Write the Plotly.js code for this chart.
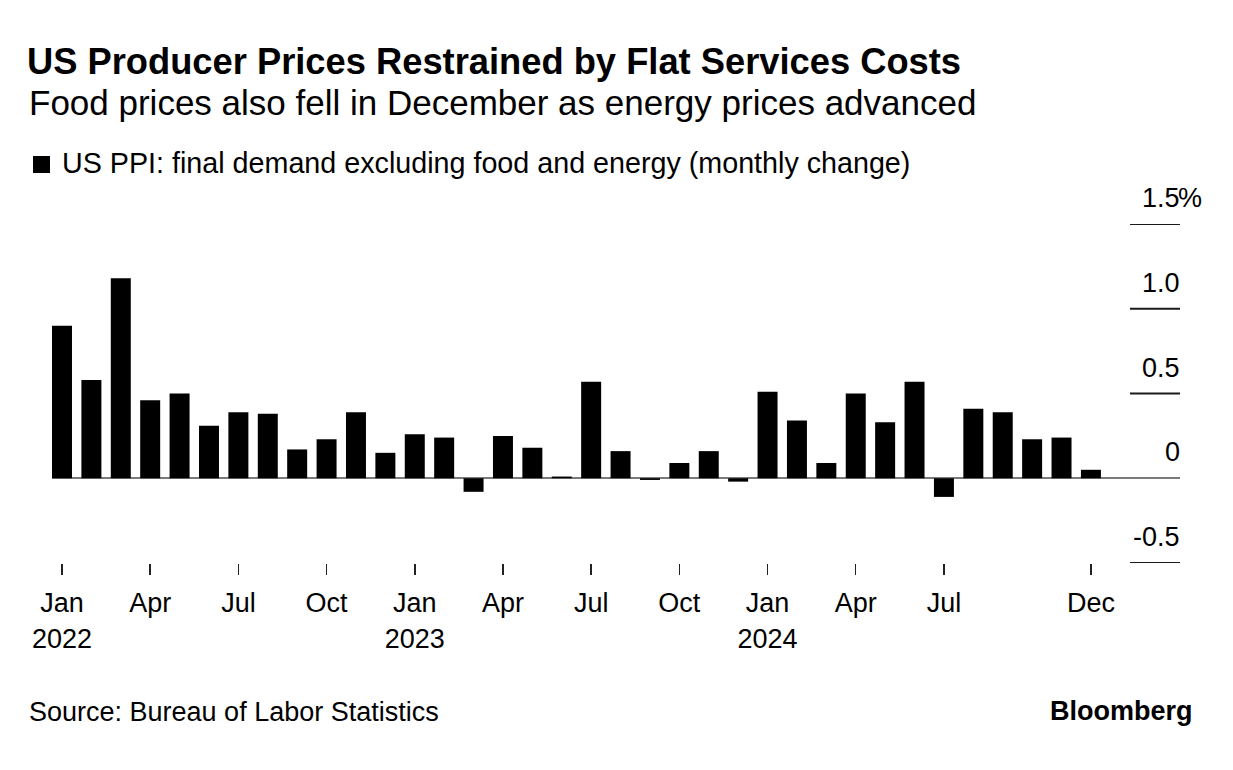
<!DOCTYPE html>
<html>
<head>
<meta charset="utf-8">
<script src="https://cdn.plot.ly/plotly-3.0.1.min.js"></script>
<style>
  html, body { margin: 0; padding: 0; background: #ffffff; }
  #chart { width: 1233px; height: 770px; }
</style>
</head>
<body>
<div id="chart"></div>
<script>
// ---- Data ----
const months = [
  'Jan 2022','Feb 2022','Mar 2022','Apr 2022','May 2022','Jun 2022',
  'Jul 2022','Aug 2022','Sep 2022','Oct 2022','Nov 2022','Dec 2022',
  'Jan 2023','Feb 2023','Mar 2023','Apr 2023','May 2023','Jun 2023',
  'Jul 2023','Aug 2023','Sep 2023','Oct 2023','Nov 2023','Dec 2023',
  'Jan 2024','Feb 2024','Mar 2024','Apr 2024','May 2024','Jun 2024',
  'Jul 2024','Aug 2024','Sep 2024','Oct 2024','Nov 2024','Dec 2024'
];
const ppiCoreMoM = [
  0.90, 0.58, 1.18, 0.46, 0.50, 0.31, 0.39, 0.38, 0.17, 0.23, 0.39, 0.15,
  0.26, 0.24, -0.08, 0.25, 0.18, 0.01, 0.57, 0.16, -0.01, 0.09, 0.16, -0.02,
  0.51, 0.34, 0.09, 0.50, 0.33, 0.57, -0.11, 0.41, 0.39, 0.23, 0.24, 0.05
];
const seriesName = 'US PPI: final demand excluding food and energy (monthly change)';
const xTickVals = ['Jan 2022','Apr 2022','Jul 2022','Oct 2022','Jan 2023','Apr 2023',
                   'Jul 2023','Oct 2023','Jan 2024','Apr 2024','Jul 2024','Dec 2024'];
const xTickText = ['Jan<br>2022','Apr','Jul','Oct','Jan<br>2023','Apr',
                   'Jul','Oct','Jan<br>2024','Apr','Jul','Dec'];
const yTickVals = [-0.5, 0, 0.5, 1.0, 1.5];
const yTickText = ['-0.5', '0', '0.5', '1.0', '1.5'];
const ySuffixTop = '%';

const titleText = 'US Producer Prices Restrained by Flat Services Costs';
const subtitleText = 'Food prices also fell in December as energy prices advanced';
const sourceText = 'Source: Bureau of Labor Statistics';
const brandText = 'Bloomberg';

// ---- Styling ----
const FONT = 'Liberation Sans, Arial, Helvetica, sans-serif';
const W = 1233, H = 770;
const M = { l: 52, r: 53, t: 224, b: 207 };
const plotW = W - M.l - M.r, plotH = H - M.t - M.b;
const px2paperX = px => (px - M.l) / plotW;
const px2paperY = py => (H - M.b - py) / plotH;

const annotations = [];
const shapes = [];

// y-axis labels (above short grid lines at the right)
yTickVals.forEach((v, i) => {
  annotations.push({
    xref: 'paper', yref: 'y', x: 1, y: v,
    xanchor: 'right', yanchor: 'middle', yshift: 26, xshift: 2,
    text: yTickText[i], showarrow: false,
    font: { family: FONT, size: 27, color: '#000' }
  });
  if (v !== 0) {
    shapes.push({
      type: 'line', xref: 'paper', yref: 'y',
      x0: px2paperX(1130), x1: 1, y0: v, y1: v,
      line: { color: '#1a1a1a', width: 2 }
    });
  }
});
// percent sign after the top label
annotations.push({
  xref: 'paper', yref: 'y', x: 1, y: yTickVals[yTickVals.length - 1],
  xanchor: 'left', yanchor: 'middle', yshift: 26, xshift: -4,
  text: ySuffixTop, showarrow: false,
  font: { family: FONT, size: 27, color: '#000' }
});

// subtitle
annotations.push({
  xref: 'paper', yref: 'paper', x: px2paperX(27), y: px2paperY(103),
  xanchor: 'left', yanchor: 'middle', text: subtitleText, showarrow: false,
  font: { family: FONT, size: 35, color: '#000' }
});
// legend text + square
annotations.push({
  xref: 'paper', yref: 'paper', x: px2paperX(60), y: px2paperY(163),
  xanchor: 'left', yanchor: 'middle', text: seriesName, showarrow: false,
  font: { family: FONT, size: 28.7, color: '#000' }
});
shapes.push({
  type: 'rect', xref: 'paper', yref: 'paper',
  x0: px2paperX(33), x1: px2paperX(50), y0: px2paperY(173), y1: px2paperY(156),
  fillcolor: '#000', line: { width: 0 }
});
// source
annotations.push({
  xref: 'paper', yref: 'paper', x: px2paperX(27), y: px2paperY(712),
  xanchor: 'left', yanchor: 'middle', text: sourceText, showarrow: false,
  font: { family: FONT, size: 27, color: '#000' }
});
// brand
annotations.push({
  xref: 'paper', yref: 'paper', x: px2paperX(1195), y: px2paperY(711),
  xanchor: 'right', yanchor: 'middle', text: brandText, showarrow: false,
  font: { family: FONT, size: 27, color: '#000', weight: 'bold' }
});

const trace = {
  type: 'bar',
  x: months,
  y: ppiCoreMoM,
  name: seriesName,
  marker: { color: '#000000', line: { width: 0 } },
  hoverinfo: 'x+y',
  showlegend: false
};

const layout = {
  width: W, height: H,
  margin: M,
  paper_bgcolor: '#ffffff',
  plot_bgcolor: '#ffffff',
  font: { family: FONT, color: '#000' },
  bargap: 0.32,
  title: {
    text: titleText,
    xref: 'container', yref: 'container',
    x: 27 / W, xanchor: 'left',
    y: 1 - 61 / H, yanchor: 'middle',
    font: { family: FONT, size: 36.3, color: '#000', weight: 'bold' }
  },
  xaxis: {
    type: 'category',
    range: [-0.34, 38.03],
    tickmode: 'array',
    tickvals: xTickVals,
    ticktext: xTickText,
    ticks: 'outside', ticklen: 11, tickwidth: 1.5, tickcolor: '#222',
    ticklabelstandoff: 5,
    tickfont: { family: FONT, size: 27, color: '#000' },
    showgrid: false, showline: false, zeroline: false,
    fixedrange: true
  },
  yaxis: {
    range: [-0.5, 1.5],
    showticklabels: false,
    ticks: '',
    showgrid: false,
    zeroline: true, zerolinecolor: '#7a7a7a', zerolinewidth: 2,
    showline: false,
    fixedrange: true
  },
  annotations: annotations,
  shapes: shapes
};

Plotly.newPlot('chart', [trace], layout, { displayModeBar: false, staticPlot: true });
</script>
</body>
</html>
